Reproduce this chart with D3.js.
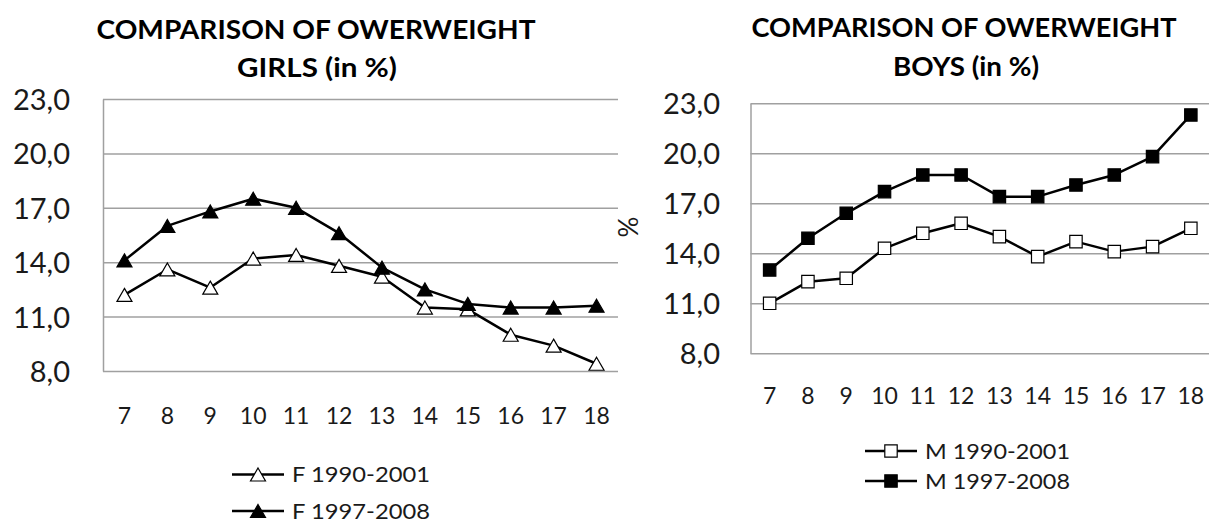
<!DOCTYPE html>
<html>
<head>
<meta charset="utf-8">
<script src="https://cdn.jsdelivr.net/npm/d3@7"></script>
<style>
  html, body { margin: 0; padding: 0; background: #ffffff; }
  svg { display: block; font-family: Lato, "Open Sans", sans-serif; }
</style>
</head>
<body>
<script>
// Age groups on the category axis
const ages = [7, 8, 9, 10, 11, 12, 13, 14, 15, 16, 17, 18];

// Share of overweight girls (%)
const girls1990_2001 = [12.2, 13.6, 12.6, 14.2, 14.4, 13.8, 13.2, 11.5, 11.4, 10.0, 9.4, 8.4];
const girls1997_2008 = [14.1, 16.0, 16.8, 17.5, 17.0, 15.6, 13.7, 12.5, 11.7, 11.5, 11.5, 11.6];

// Share of overweight boys (%)
const boys1990_2001 = [11.0, 12.3, 12.5, 14.3, 15.2, 15.8, 15.0, 13.8, 14.7, 14.1, 14.4, 15.5];
const boys1997_2008 = [13.0, 14.9, 16.4, 17.7, 18.7, 18.7, 17.4, 17.4, 18.1, 18.7, 19.8, 22.3];

// Value axis ticks
const yTicks = [8, 11, 14, 17, 20, 23];

// Series names
const girlsNames = ["F 1990-2001", "F 1997-2008"];
const boysNames = ["M 1990-2001", "M 1997-2008"];

const W = 1209, H = 523;
const svg = d3.select("body").append("svg").attr("width", W).attr("height", H);

const commaLocale = d3.formatLocale({ decimal: ",", thousands: " ", grouping: [3], currency: ["", ""] });
const fmt = commaLocale.format(".1f");

// Marker shapes, centred on the data point
const triPath = "M0,-6.5L7.5,6.5L-7.5,6.5Z";
const sqPath = "M-6.2,-6.2H6.2V6.2H-6.2Z";

function drawPanel(cfg) {
  const g = svg.append("g");
  const x = d3.scaleBand().domain(ages).range([cfg.x0, cfg.x1]);
  const cx = d => x(d) + x.bandwidth() / 2;
  const y = d3.scaleLinear().domain([8, 23]).range([cfg.yb, cfg.yt]);

  // Value axis with horizontal gridlines
  const yAxis = d3.axisLeft(y)
    .tickValues(yTicks)
    .tickFormat(fmt)
    .tickSizeInner(-(cfg.x1 - cfg.x0))
    .tickSizeOuter(0)
    .tickPadding(cfg.tickPad);
  const ya = g.append("g").attr("transform", `translate(${cfg.x0},0)`).call(yAxis);
  ya.select(".domain").attr("stroke", "#a0a0a0").attr("stroke-width", 1.5);
  ya.selectAll(".tick line").attr("stroke", "#a0a0a0").attr("stroke-width", 1.5);
  ya.selectAll(".tick text")
    .attr("font-family", "Lato, sans-serif")
    .attr("font-size", 29)
    .attr("fill", "#1a1a1a")
    .attr("dy", "0.36em");

  // Category labels
  g.append("g").selectAll("text").data(ages).join("text")
    .attr("x", d => cx(d))
    .attr("y", cfg.xLabelY)
    .attr("text-anchor", "middle")
    .attr("font-size", 23)
    .attr("fill", "#1a1a1a")
    .text(d => d);

  // Title
  cfg.title.forEach(t => {
    g.append("text")
      .attr("x", t.cx).attr("y", t.y)
      .attr("text-anchor", "middle")
      .attr("font-size", 27)
      .attr("font-weight", 700)
      .attr("fill", "#000")
      .attr("textLength", t.w)
      .attr("lengthAdjust", "spacingAndGlyphs")
      .text(t.text);
  });

  const line = d3.line().x((d, i) => cx(ages[i])).y(d => y(d));

  cfg.series.forEach(s => {
    g.append("path")
      .datum(s.values)
      .attr("d", line)
      .attr("fill", "none")
      .attr("stroke", "#000")
      .attr("stroke-width", 2.5)
      .attr("stroke-linejoin", "round");
  });
  cfg.series.forEach(s => {
    g.append("g").selectAll("path").data(s.values).join("path")
      .attr("transform", (d, i) => `translate(${cx(ages[i])},${y(d)})`)
      .attr("d", s.shape)
      .attr("fill", s.fill)
      .attr("stroke", "#000")
      .attr("stroke-width", 1.2);
  });

  // Legend
  cfg.series.forEach((s, i) => {
    const ly = cfg.legend.y + i * cfg.legend.dy;
    const lg = g.append("g");
    lg.append("line")
      .attr("x1", cfg.legend.x).attr("x2", cfg.legend.x + 52)
      .attr("y1", ly).attr("y2", ly)
      .attr("stroke", "#000").attr("stroke-width", 2.5);
    lg.append("path")
      .attr("transform", `translate(${cfg.legend.x + 26},${ly})`)
      .attr("d", s.shape)
      .attr("fill", s.fill)
      .attr("stroke", "#000")
      .attr("stroke-width", 1.2);
    lg.append("text")
      .attr("x", cfg.legend.x + 60)
      .attr("y", ly + 7.5)
      .attr("font-size", 22)
      .attr("fill", "#1a1a1a")
      .attr("textLength", cfg.legend.tw)
      .attr("lengthAdjust", "spacingAndGlyphs")
      .text(s.name);
  });
}

drawPanel({
  x0: 103, x1: 618, yb: 371, yt: 99, tickPad: 33, xLabelY: 424,
  title: [
    { text: "COMPARISON OF OWERWEIGHT", cx: 316, y: 39, w: 439 },
    { text: "GIRLS (in %)", cx: 317, y: 77, w: 160 }
  ],
  series: [
    { name: girlsNames[0], values: girls1990_2001, shape: triPath, fill: "#fff" },
    { name: girlsNames[1], values: girls1997_2008, shape: triPath, fill: "#000" }
  ],
  legend: { x: 232, y: 474.5, dy: 36.5, tw: 138 }
});

drawPanel({
  x0: 750.5, x1: 1210, yb: 353.3, yt: 103.3, tickPad: 30.5, xLabelY: 404,
  title: [
    { text: "COMPARISON OF OWERWEIGHT", cx: 964, y: 37, w: 425 },
    { text: "BOYS (in %)", cx: 966, y: 76, w: 146 }
  ],
  series: [
    { name: boysNames[0], values: boys1990_2001, shape: sqPath, fill: "#fff" },
    { name: boysNames[1], values: boys1997_2008, shape: sqPath, fill: "#000" }
  ],
  legend: { x: 865, y: 451, dy: 30, tw: 145 }
});

// Vertical unit label of the boys' value axis
svg.append("text")
  .attr("transform", "translate(628,227) rotate(-90)")
  .attr("text-anchor", "middle")
  .attr("dominant-baseline", "central")
  .attr("font-size", 26)
  .attr("fill", "#1a1a1a")
  .text("%");
</script>
</body>
</html>
